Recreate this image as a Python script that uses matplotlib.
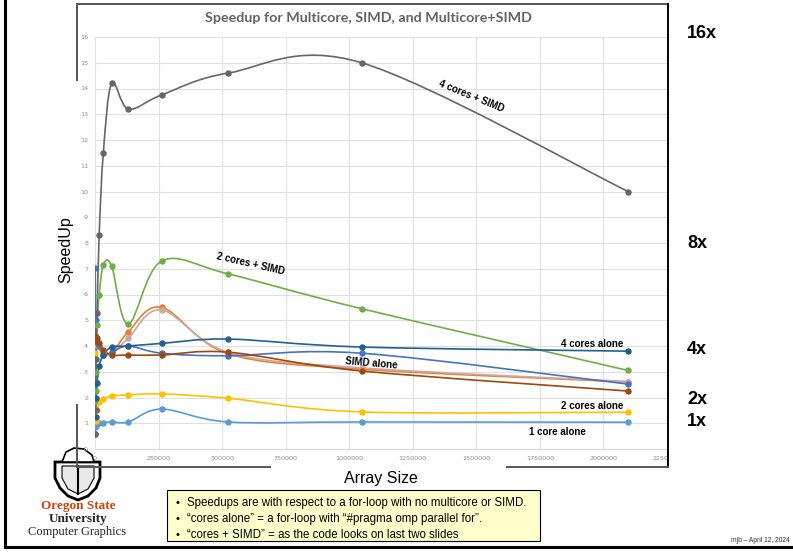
import numpy as np
import matplotlib
matplotlib.use("Agg")
import matplotlib.pyplot as plt
from matplotlib.path import Path
from matplotlib.patches import PathPatch, Rectangle, Polygon
from matplotlib.lines import Line2D
from matplotlib.transforms import Bbox, TransformedBbox

# ---------------------------------------------------------------------------
# Data
# ---------------------------------------------------------------------------
array_size = [1024, 2048, 4096, 8192, 16384, 32768, 65536, 131072,
              262144, 524288, 1048576, 2097152]

one_core = [0.85, 0.9, 1.0, 1.0, 1.0, 1.02, 1.05, 1.05, 1.55, 1.05, 1.05, 1.04]
simd_orange = [4.35, 4.3, 4.2, 4.1, 4.0, 3.8, 3.7, 4.55, 5.5, 3.7, 3.1, 2.6]
simd_gray = [4.3, 4.25, 4.15, 4.05, 3.95, 3.75, 3.7, 4.3, 5.4, 3.75, 3.15, 2.62]
two_cores = [3.72, 1.1, 1.25, 1.5, 1.83, 1.95, 2.06, 2.1, 2.14, 1.97, 1.44, 1.43]
blue_series = [7.03, 5.0, 4.35, 4.3, 4.0, 3.65, 3.75, 4.0, 3.72, 3.62, 3.72, 2.52]
two_cores_simd = [1.85, 2.25, 3.0, 4.8, 6.0, 7.15, 7.1, 4.85, 7.3, 6.8, 5.45, 3.05]
four_cores = [0.6, 1.25, 2.0, 2.56, 3.22, 3.65, 3.96, 4.0, 4.1, 4.27, 3.96, 3.8]
brown_series = [4.4, 4.3, 4.2, 4.15, 4.1, 3.85, 3.65, 3.65, 3.65, 3.76, 3.03, 2.25]
four_cores_simd = [0.6, 1.5, 3.5, 5.3, 8.3, 11.5, 14.2, 13.2, 13.75, 14.6, 15.0, 10.0]

series = [
    (one_core, "#5B9BD5"),
    (simd_orange, "#ED7D31"),
    (simd_gray, "#C9A9A0"),
    (two_cores, "#FFC000"),
    (blue_series, "#4472C4"),
    (two_cores_simd, "#70AD47"),
    (four_cores, "#255E91"),
    (brown_series, "#9E480E"),
    (four_cores_simd, "#666666"),
]

W, H = 793, 553


def fx(px):
    return px / W


def fy(py):
    return 1 - py / H


def smooth_path(x, y):
    """Excel-like smoothed line: Catmull-Rom converted to cubic Beziers."""
    p = np.column_stack([x, y]).astype(float)
    n = len(p)
    verts = [p[0]]
    codes = [Path.MOVETO]
    for i in range(n - 1):
        p0 = p[max(i - 1, 0)]
        p1 = p[i]
        p2 = p[i + 1]
        p3 = p[min(i + 2, n - 1)]
        c1 = p1 + (p2 - p0) / 6.0
        c2 = p2 - (p3 - p1) / 6.0
        verts += [c1, c2, p2]
        codes += [Path.CURVE4] * 3
    return Path(verts, codes)


fig = plt.figure(figsize=(W / 100, H / 100), dpi=100)
fig.patch.set_facecolor("white")

ax = fig.add_axes([fx(95), fy(449), fx(667) - fx(95), fy(37) - fy(449)])
ax.patch.set_alpha(0)
ax.set_xlim(0, 2250000)
ax.set_ylim(0, 16)
ax.set_xticks(np.arange(0, 2250001, 250000))
ax.set_yticks(np.arange(0, 17, 1))
ax.grid(True, color="#e0e0e0", lw=0.8)
ax.set_axisbelow(True)
for s in ["top", "right", "left"]:
    ax.spines[s].set_visible(False)
ax.spines["bottom"].set_color("#d9d9d9")
ax.tick_params(length=0, labelsize=4.6, labelcolor="#8c8c8c", pad=5)
ax.set_xticklabels([str(v) for v in range(0, 2250001, 250000)])

for vals, col in series:
    ax.add_patch(PathPatch(smooth_path(array_size, vals), fill=False,
                           edgecolor=col, lw=1.2))
    ax.plot(array_size, vals, "o", color=col, ms=3.6, mec=col)

# clip the last x tick label at the chart border, like the slide does
clip = TransformedBbox(Bbox([[0, 0], [fx(668), 1]]), fig.transFigure)
for lab in ax.get_xticklabels():
    lab.set_clip_box(clip)
    lab.set_clip_on(True)

# series labels
lab_kw = dict(fontsize=7, fontweight="bold", family="Liberation Sans",
              ha="center", va="center", color="black")
ax.text(1480000, 13.7, "4 cores + SIMD", rotation=-22, **lab_kw)
ax.text(610000, 7.18, "2 cores + SIMD", rotation=-13, **lab_kw)
ax.text(1957000, 4.08, "4 cores alone", **lab_kw)
ax.text(1087000, 3.34, "SIMD alone", rotation=-5, **lab_kw)
ax.text(1957000, 1.67, "2 cores alone", **lab_kw)
ax.text(1819000, 0.66, "1 core alone", **lab_kw)

# chart title and axis titles
fig.text(fx(368), fy(18), "Speedup for Multicore, SIMD, and Multicore+SIMD",
         ha="center", va="center", fontsize=10.3, fontweight="bold",
         family="Lato", color="#636363")
fig.text(fx(66), fy(250), "SpeedUp", rotation=90, ha="center", va="center",
         fontsize=11.5, family="Liberation Sans")
fig.text(fx(381), fy(479), "Array Size", ha="center", va="center",
         fontsize=11.5, family="Liberation Sans")

# chart frame (partly hidden behind the axis titles on the slide)
frame = dict(color="#555555", lw=1.4)
fig.add_artist(Line2D([fx(77), fx(668)], [fy(4), fy(4)], **frame))
fig.add_artist(Line2D([fx(668), fx(668)], [fy(4), fy(467)], color="black", lw=1.4))
fig.add_artist(Line2D([fx(77), fx(77)], [fy(4), fy(80)], **frame))
fig.add_artist(Line2D([fx(77), fx(77)], [fy(405), fy(467)], **frame))
fig.add_artist(Line2D([fx(77), fx(270)], [fy(467), fy(467)], **frame))
fig.add_artist(Line2D([fx(507), fx(668)], [fy(467), fy(467)], **frame))

# right-hand speedup markers
for txt, py in [("16x", 34), ("8x", 243), ("4x", 349), ("2x", 399), ("1x", 422)]:
    fig.text(fx(687), fy(py), txt, ha="left", va="center", fontsize=13,
             fontweight="bold", family="Liberation Sans")

# slide border
fig.add_artist(Line2D([fx(5), fx(5)], [fy(0), fy(547)], color="black", lw=2.2))
fig.add_artist(Line2D([fx(5), fx(793)], [fy(547), fy(547)], color="black", lw=2.2))

# simple university shield (drawn beneath the axes so the "0" label shows)
shield = [(55, 462), (100, 462), (100, 478), (96, 488), (88, 496), (78, 500),
          (68, 496), (60, 488), (55, 478)]
fig.add_artist(Polygon([(fx(a), fy(b)) for a, b in shield], closed=True,
                       transform=fig.transFigure, facecolor="white",
                       edgecolor="black", lw=2.0, zorder=-1))
inner = [(62, 466), (94, 466), (94, 478), (88, 489), (78, 494), (68, 489),
         (62, 478)]
fig.add_artist(Polygon([(fx(a), fy(b)) for a, b in inner], closed=True,
                       transform=fig.transFigure, facecolor="#e8e8e8",
                       edgecolor="black", lw=0.8, zorder=-1))
crest = [(62, 462), (66, 452), (74, 448), (84, 449), (92, 455), (94, 462)]
fig.add_artist(Polygon([(fx(a), fy(b)) for a, b in crest], closed=True,
                       transform=fig.transFigure, facecolor="white",
                       edgecolor="black", lw=1.2, zorder=-1))
fig.add_artist(Line2D([fx(78), fx(78)], [fy(466), fy(494)], color="black",
                      lw=1.5, zorder=-1))

# note box
fig.add_artist(Rectangle((fx(167), fy(541)), fx(540) - fx(167), fy(490) - fy(541),
                         transform=fig.transFigure, facecolor="#FFFFCC",
                         edgecolor="black", lw=0.8))
notes = ["Speedups are with respect to a for-loop with no multicore or SIMD.",
         "\u201ccores alone\u201d = a for-loop with \u201c#pragma omp parallel for\u201d.",
         "\u201ccores + SIMD\u201d = as the code looks on last two slides"]
for i, line in enumerate(notes):
    py = 503 + i * 16
    fig.text(fx(175), fy(py), "\u2022", ha="left", va="center", fontsize=8,
             family="Liberation Sans")
    fig.text(fx(187), fy(py), line, ha="left", va="center", fontsize=8.3,
             family="Liberation Sans")

# university text
fig.text(fx(78), fy(506), "Oregon State", ha="center", va="center",
         fontsize=9.5, fontweight="bold", family="Liberation Serif",
         color="#D73F09")
fig.text(fx(78), fy(519), "University", ha="center", va="center",
         fontsize=9.5, fontweight="bold", family="Liberation Serif",
         color="#222222")
fig.text(fx(77), fy(532), "Computer Graphics", ha="center", va="center",
         fontsize=9, family="Liberation Serif", color="#222222")

fig.text(fx(790), fy(541), "mjb \u2013 April 12, 2024", ha="right", va="center",
         fontsize=4.8, family="Liberation Sans", color="#333333")

fig.savefig("out.png", dpi=100)
